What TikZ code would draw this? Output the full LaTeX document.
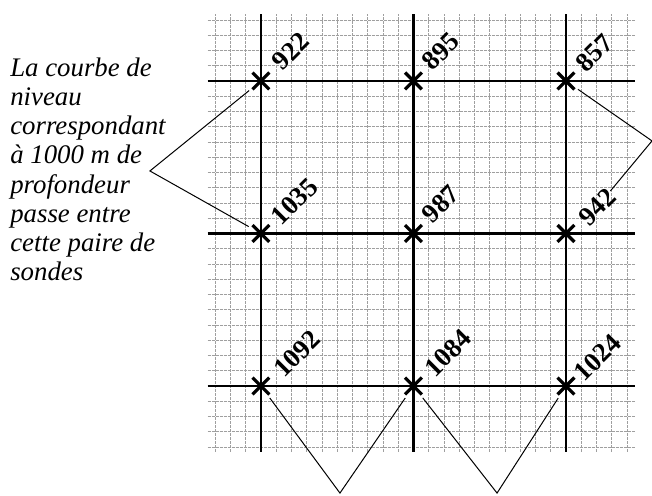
\documentclass[tikz,border=0pt]{standalone}
\usepackage{fontspec}
\setmainfont{Liberation Serif}
\usepackage{tikz}
\usetikzlibrary{shapes.misc, calc}
\tikzstyle{leader} = [line width=0.5pt, black, shorten <=2.2pt, shorten >=2.2pt]

\begin{document}
\begin{tikzpicture}[x=7.625pt, y=7.625pt,
  gridline/.style={gray!75, line width=0.3pt, dash pattern=on 1.5pt off 0.5pt},
  survey/.style={line width=1.4pt},
  probe/.style={draw, cross out, line width=1.6pt, minimum size=8.4pt, inner sep=0pt, outer sep=0pt},
  depth/.style={font=\fontsize{13.4}{14.6}\selectfont\bfseries, rotate=45, anchor=west, inner sep=0pt},
  note/.style={font=\fontsize{13.4}{14.6}\selectfont\itshape, align=left, anchor=west, inner sep=0pt}
]
\useasboundingbox (-17.11,-7.15) rectangle (25.64,25.31);

% Squared paper
\draw[gridline, step=1] (-3.5,-4.3) grid (24.5,24.4);

% Survey lines
\draw[survey] (-3.5,20) -- (24.5,20);
\draw[survey] (-3.5,10) -- (24.5,10);
\draw[survey] (-3.5,0) -- (24.5,0);
\draw[survey] (0,-4.3) -- (0,24.4);
\draw[survey] (10,-4.3) -- (10,24.4);
\draw[survey] (20,-4.3) -- (20,24.4);

% Probes
\node[probe] (c922) at (0,20) {};
\node[probe] (c895) at (10,20) {};
\node[probe] (c857) at (20,20) {};
\node[probe] (c1035) at (0,10) {};
\node[probe] (c987) at (10,10) {};
\node[probe] (c942) at (20,10) {};
\node[probe] (c1092) at (0,0) {};
\node[probe] (c1084) at (10,0) {};
\node[probe] (c1024) at (20,0) {};

% Depths
\node[depth] (v922) at ($(c922)+(1.0,1.0)$) {922};
\node[depth] (v895) at ($(c895)+(0.85,1.0)$) {895};
\node[depth] (v857) at ($(c857)+(0.9,0.9)$) {857};
\node[depth] (v1035) at ($(c1035)+(0.95,0.85)$) {1035};
\node[depth] (v987) at ($(c987)+(0.85,1.0)$) {987};
\node[depth] (v942) at ($(c942)+(1.1,0.8)$) {942};
\node[depth] (v1092) at ($(c1092)+(1.1,0.85)$) {1092};
\node[depth] (v1084) at ($(c1084)+(1.0,0.9)$) {1084};
\node[depth] (v1024) at ($(c1024)+(0.8,0.6)$) {1024};

% Note
\node[note] (txt) at (-16.46,14.2)
  {La courbe de\\niveau\\correspondant\\à 1000 m de\\profondeur\\passe entre\\cette paire de\\sondes};

% Leaders
\coordinate (apexL) at (-7.28,14.10);
\coordinate (apexR) at (25.64,16.07);
\coordinate (apexB1) at (5.18,-7.02);
\coordinate (apexB2) at (15.48,-7.02);
\draw[leader] (c922) -- (apexL) -- (c1035);
\draw[leader, shorten >=0pt] (c857) -- (apexR) -- (v942);
\draw[leader] (c1092) -- (apexB1) -- (c1084);
\draw[leader] (c1084) -- (apexB2) -- (c1024);

\end{tikzpicture}
\end{document}
